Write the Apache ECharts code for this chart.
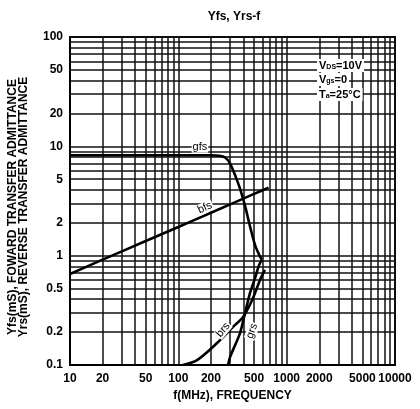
<!DOCTYPE html>
<html><head><meta charset="utf-8">
<script src="https://cdn.jsdelivr.net/npm/echarts@6/dist/echarts.min.js"></script>
<style>html,body{margin:0;padding:0;background:#fff}#c{width:420px;height:409px}</style>
</head><body><div id="c"></div>
<script>
// ---- data ----
const xTickLabels = [10, 20, 50, 100, 200, 500, 1000, 2000, 5000, 10000];
const yTickLabels = [0.1, 0.2, 0.5, 1, 2, 5, 10, 20, 50, 100];

const gfsFreq = [10, 50, 100, 200, 240, 270, 300, 340, 371, 413, 459, 511, 568, 591];
const gfsVal  = [8.3, 8.3, 8.3, 8.3, 8.2, 7.9, 7.0, 5.2, 4.1, 2.85, 1.85, 1.25, 0.98, 0.92];

const bfsFreq = [10, 20, 50, 100, 200, 500, 680];
const bfsVal  = [0.68, 0.92, 1.36, 1.83, 2.47, 3.67, 4.19];

const brsFreq = [110, 149, 228, 320, 396, 480, 568, 630];
const brsVal  = [0.1, 0.111, 0.159, 0.223, 0.275, 0.393, 0.6, 0.74];

const grsFreq = [288, 300, 371, 413, 459, 511, 556, 591];
const grsVal  = [0.1, 0.118, 0.196, 0.299, 0.456, 0.625, 0.82, 0.92];

// ---- grid line values (1..9 per decade) ----
function decadeLines(lo, hi) {
  const out = [];
  for (let d = lo; d < hi; d *= 10) for (let k = 1; k < 10; k++) out.push(+(d * k).toPrecision(6));
  out.push(hi);
  return out;
}
const xGrid = decadeLines(10, 10000);
const yGrid = decadeLines(0.1, 100);

const FONT = 'Liberation Sans';
const labelBase = { show: true, fontFamily: FONT, fontSize: 11, color: '#000',
  backgroundColor: '#fff', padding: [0, 1], align: 'center', verticalAlign: 'middle' };

function build(freq, val, labelIdx, labelOpt) {
  return freq.map((f, i) => {
    const item = { value: [f, val[i]] };
    if (i === labelIdx) item.label = Object.assign({}, labelBase, labelOpt);
    return item;
  });
}

const lineStyle = { color: '#000', width: 2.6 };
function mkSeries(name, data) {
  return { name, type: 'line', data, symbol: 'circle', symbolSize: 0, showSymbol: true,
    lineStyle, itemStyle: { color: '#000' }, smooth: 0.3, z: 5, silent: true, animation: false };
}

const subRich = {
  v: { font: 'bold 11px "Liberation Sans"', fill: '#000' },
  s: { font: 'bold 7px "Liberation Sans"', fill: '#000', verticalAlign: 'bottom', padding: [3, 0, 0, 0] }
};

const chart = echarts.init(document.getElementById('c'), null, { renderer: 'canvas' });
chart.setOption({
  animation: false,
  backgroundColor: '#fff',
  title: { text: 'Yfs, Yrs-f', left: 229, top: 6, textAlign: 'center',
    textStyle: { fontFamily: FONT, fontSize: 12, fontWeight: 'bold', color: '#000' } },
  grid: { left: 70, right: 25, top: 37, bottom: 44, show: true, borderColor: '#000', borderWidth: 2 },
  xAxis: {
    type: 'log', logBase: 10, min: 10, max: 10000,
    name: 'f(MHz), FREQUENCY', nameLocation: 'middle', nameGap: 24,
    nameTextStyle: { fontFamily: FONT, fontSize: 12, fontWeight: 'bold', color: '#000' },
    axisLine: { show: true, lineStyle: { color: '#000', width: 2 } },
    axisTick: { show: false, customValues: xGrid },
    splitLine: { show: true, lineStyle: { color: '#111', width: 1.5 } },
    axisLabel: { customValues: xTickLabels, formatter: v => String(v), margin: 8,
      fontFamily: FONT, fontSize: 12, fontWeight: 'bold', color: '#000' }
  },
  yAxis: {
    type: 'log', logBase: 10, min: 0.1, max: 100,
    axisLine: { show: true, lineStyle: { color: '#000', width: 2 } },
    axisTick: { show: false, customValues: yGrid },
    splitLine: { show: true, lineStyle: { color: '#111', width: 1.5 } },
    axisLabel: { customValues: yTickLabels, formatter: v => String(v), margin: 7,
      fontFamily: FONT, fontSize: 12, fontWeight: 'bold', color: '#000' }
  },
  graphic: [
    { type: 'text', x: 13, y: 207, rotation: Math.PI / 2,
      style: { text: 'Yfs(mS), FOWARD TRANSFER ADMITTANCE', fill: '#000', align: 'center', verticalAlign: 'middle',
        font: 'bold 12px "Liberation Sans"' } },
    { type: 'text', x: 24, y: 207, rotation: Math.PI / 2,
      style: { text: 'Yrs(mS), REVERSE TRANSFER ADMITTANCE', fill: '#000', align: 'center', verticalAlign: 'middle',
        font: 'bold 12px "Liberation Sans"' } },
    { type: 'text', left: 317, top: 59, z: 10,
      style: { text: '{v|V}{s|DS}{v|=10V}', backgroundColor: '#fff', padding: [1, 2], rich: subRich } },
    { type: 'text', left: 317, top: 73, z: 10,
      style: { text: '{v|V}{s|gs}{v|=0}', backgroundColor: '#fff', padding: [1, 2], rich: subRich } },
    { type: 'text', left: 317, top: 88, z: 10,
      style: { text: '{v|T}{s|a}{v|=25°C}', backgroundColor: '#fff', padding: [1, 2], rich: subRich } }
  ],
  series: [
    mkSeries('gfs', build(gfsFreq, gfsVal, 3, { formatter: 'gfs', position: [-11, -8] })),
    mkSeries('bfs', build(bfsFreq, bfsVal, 4, { formatter: 'bfs', position: [-6, -5], rotate: 24 })),
    mkSeries('brs', build(brsFreq, brsVal, 3, { formatter: 'brs', position: [-10, 3], rotate: 50 })),
    mkSeries('grs', build(grsFreq, grsVal, 2, { formatter: 'grs', position: [12, -2], rotate: 70 }))
  ]
});
</script>
</body></html>
